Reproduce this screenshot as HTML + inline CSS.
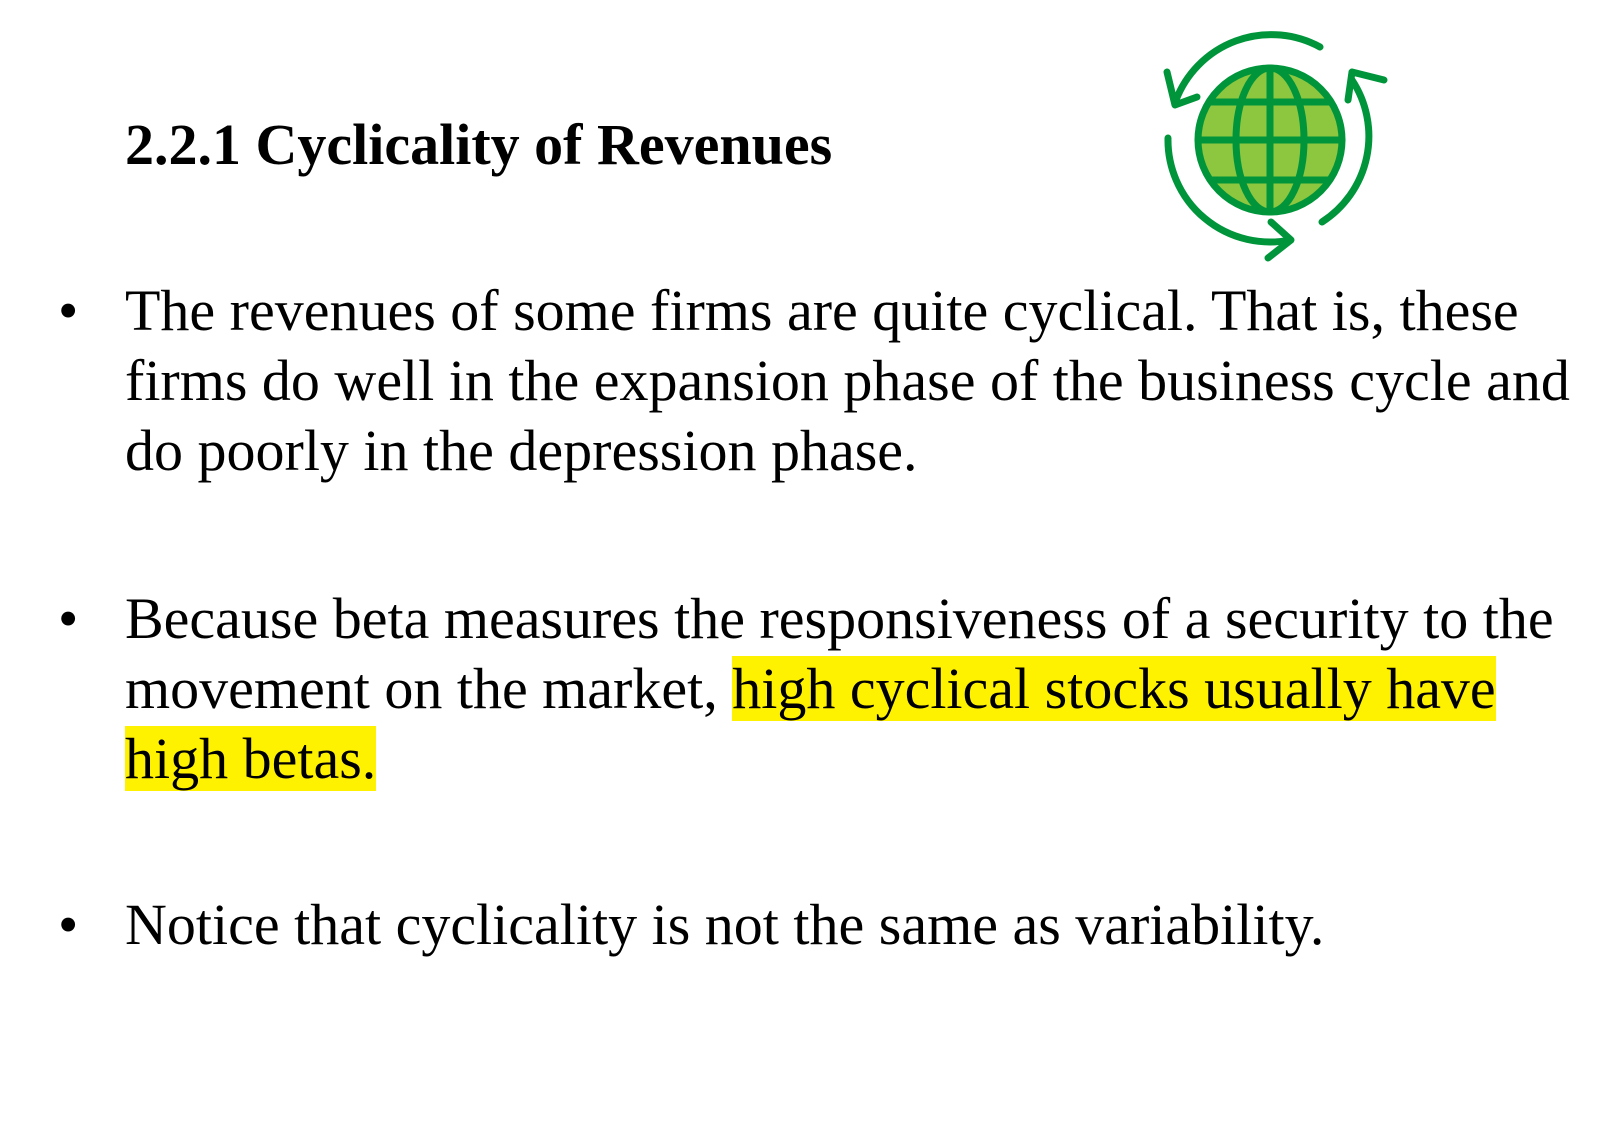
<!DOCTYPE html>
<html><head><meta charset="utf-8"><style>
html,body{margin:0;padding:0;background:#fff;}
body{width:1624px;height:1136px;position:relative;overflow:hidden;font-family:"Liberation Serif",serif;color:#000;}
.t{position:absolute;left:125px;white-space:nowrap;font-size:58px;line-height:70px;}
.b{position:absolute;left:58px;font-size:58px;line-height:70px;}
.hl{background:#FFF200;}
</style></head><body>
<div style="position:absolute;left:125px;top:110px;font-size:58px;font-weight:bold;line-height:70px;white-space:nowrap;">2.2.1 Cyclicality of Revenues</div>

<svg style="position:absolute;left:1150px;top:20px" width="250" height="250" viewBox="1150 20 250 250">
<g fill="none" stroke="#00953B" stroke-width="7" stroke-linecap="round" stroke-linejoin="round">
<circle cx="1270" cy="140" r="72" fill="#8DC63F"/>
<ellipse cx="1270" cy="140" rx="34" ry="72"/>
<line x1="1270" y1="68" x2="1270" y2="212"/>
<line x1="1198" y1="140" x2="1342" y2="140"/>
<line x1="1209" y1="102" x2="1331" y2="102"/>
<line x1="1212" y1="180" x2="1328" y2="180"/>
<path d="M1320 47 A102 102 0 0 0 1176 100"/>
<path d="M1167 72 L1175 105 L1197 97"/>
<path d="M1168 138 A102 102 0 0 0 1290 240"/>
<path d="M1271 222 L1291 240 L1268 258"/>
<path d="M1322 222 A102 102 0 0 0 1352 80"/>
<path d="M1348 100 L1352 72 L1384 80"/>
</g></svg>

<div class="b" style="top:276px">•</div>
<div class="t" style="top:276px">The revenues of some firms are quite cyclical. That is, these</div>
<div class="t" style="top:346px">firms do well in the expansion phase of the business cycle and</div>
<div class="t" style="top:416px">do poorly in the depression phase.</div>

<div class="b" style="top:584px">•</div>
<div class="t" style="top:584px">Because beta measures the responsiveness of a security to the</div>
<div class="t" style="top:654px">movement on the market, <span class="hl">high cyclical stocks usually have</span></div>
<div class="t" style="top:724px"><span class="hl">high betas.</span></div>

<div class="b" style="top:890px">•</div>
<div class="t" style="top:890px">Notice that cyclicality is not the same as variability.</div>
</body></html>
